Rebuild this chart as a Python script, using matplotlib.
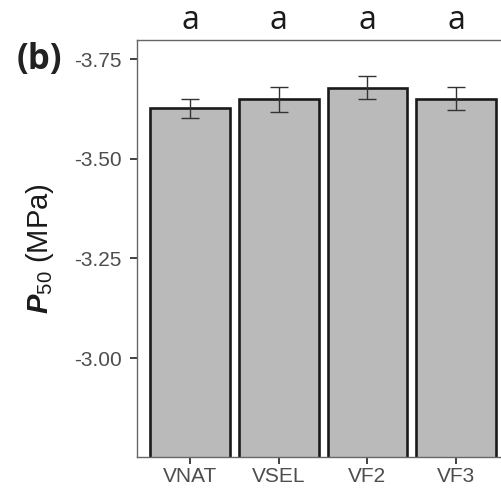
# p50_barras.py
# P50 (MPa) por tratamento, barras com erro padrão e letras de significância.

import matplotlib.pyplot as plt

plt.rcParams["font.family"] = ["Liberation Sans", "DejaVu Sans"]
plt.rcParams["mathtext.fontset"] = "custom"
plt.rcParams["mathtext.rm"] = "Liberation Sans"
plt.rcParams["mathtext.bf"] = "Liberation Sans:bold:italic"

# dados
tratamentos = ["VNAT", "VSEL", "VF2", "VF3"]
p50 = [-3.627, -3.649, -3.678, -3.651]
erro = [0.024, 0.032, 0.029, 0.028]
letras = ["a", "a", "a", "a"]
yticks = [-3.75, -3.50, -3.25, -3.00]

fig = plt.figure(figsize=(5.02, 4.91), dpi=100)
# o painel original está cortado à direita, por isso o eixo passa da figura
ax = fig.add_axes([0.273, 0.0692, 0.918, 0.8493])

x = list(range(1, len(tratamentos) + 1))
ax.bar(x, p50, width=0.9, color="#bababa", edgecolor="#1a1a1a", linewidth=1.9,
       zorder=2)
ax.errorbar(x, p50, yerr=erro, fmt="none", ecolor="#333333", elinewidth=1.0,
            capsize=6.5, capthick=1.0, zorder=3)

ax.set_xlim(0.4, 5.6)
ax.set_ylim(-2.752, -3.798)
ax.set_xticks(x)
ax.set_xticklabels(tratamentos)
ax.set_yticks(yticks)
ax.set_yticklabels([f"{v:.2f}" for v in yticks])

ax.tick_params(axis="both", length=5, width=1.3, color="#333333",
               labelsize=15, labelcolor="#4d4d4d")
ax.tick_params(axis="y", pad=6)
ax.tick_params(axis="x", pad=2)
for s in ax.spines.values():
    s.set_color("#666666")
    s.set_linewidth(1.0)

ax.set_ylabel(r"$\mathbf{P}_{\mathrm{50}}$ (MPa)", fontsize=21, color="#1a1a1a")
ax.yaxis.set_label_coords(-0.175, 0.5)

for xi, l in zip(x, letras):
    ax.annotate(l, xy=(xi, 1.0), xycoords=("data", "axes fraction"),
                xytext=(0, 20), textcoords="offset pixels",
                ha="center", va="center", fontsize=23, family="Open Sans",
                color="#1a1a1a")

fig.text(0.078, 0.878, "(b)", fontsize=25, fontweight="bold",
         family="Open Sans", ha="center", va="center", color="#222222")

fig.savefig("out.png", dpi=100)
